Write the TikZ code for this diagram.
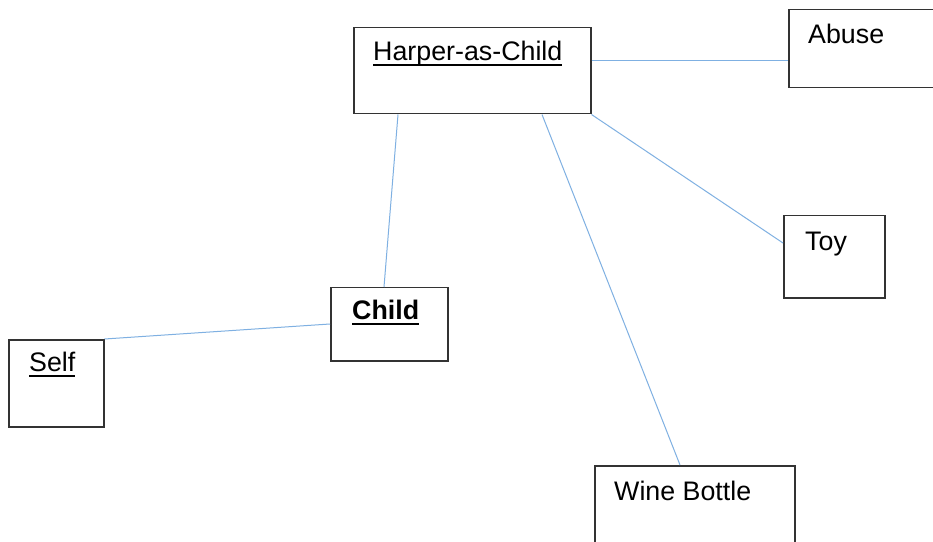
\documentclass[tikz,border=0pt]{standalone}
\usepackage{fontspec}
\setmainfont{Liberation Sans}
\definecolor{boxline}{HTML}{333333}
\definecolor{linkblue}{HTML}{7FB0E2}
% underline with a heavier rule, placed just below the baseline
\newcommand\ulbox[1]{\setbox0\hbox{#1}\rlap{\rule[-5bp]{\wd0}{2.2bp}}\box0}
\begin{document}
\begin{tikzpicture}[x=1bp,y=-1bp,
  conceptbox/.style={draw=boxline,line width=1.5bp,fill=white,inner sep=0pt},
  conceptlabel/.style={anchor=base west,inner sep=0pt,font=\fontsize{26.8bp}{31bp}\selectfont},
  link/.style={draw=linkblue,line width=1bp}]
  \clip (0,0) rectangle (933,542);
  \fill[white] (0,0) rectangle (933,542);

  % boxes (x0,y0) rectangle (x1,y1)
  \node[conceptbox,minimum width=237bp,minimum height=86bp,anchor=north west] (harper) at (353,27) {};
  \node[conceptbox,minimum width=160bp,minimum height=78bp,anchor=north west] (abuse) at (788,9) {};
  \node[conceptbox,minimum width=101bp,minimum height=82bp,anchor=north west] (toy) at (783,215) {};
  \node[conceptbox,minimum width=117bp,minimum height=73bp,anchor=north west] (child) at (330,287) {};
  \node[conceptbox,minimum width=95bp,minimum height=87bp,anchor=north west] (self) at (8,339) {};
  \node[conceptbox,minimum width=200bp,minimum height=100bp,anchor=north west] (wine) at (594,465) {};

  % labels
  \node[conceptlabel] (harperT) at (373,61) {\ulbox{Harper-as-Child}};
  \node[conceptlabel] (abuseT) at (808,44) {Abuse};
  \node[conceptlabel] (toyT) at (805,251) {Toy};
  \node[conceptlabel] (childT) at (352,320) {\ulbox{\bfseries Child}};
  \node[conceptlabel] (selfT) at (29,372) {\ulbox{Self}};
  \node[conceptlabel] (wineT) at (614,500) {Wine Bottle};

  % connectors
  \draw[link] (harper.east |- 0,61) -- (abuse.west |- 0,61);
  \draw[link] (harper.south west) ++(45,0) coordinate (hc) (hc) -- (child.north west -| 384,0);
  \draw[link] (harper.south west) ++(189,0) coordinate (hw) (hw) -- (wine.north west -| 680,0);
  \draw[link] (harper.south east) -- (toy.west |- 0,243);
  \draw[link] (child.west |- 0,324) -- (self.east |- 0,339);
\end{tikzpicture}
\end{document}
